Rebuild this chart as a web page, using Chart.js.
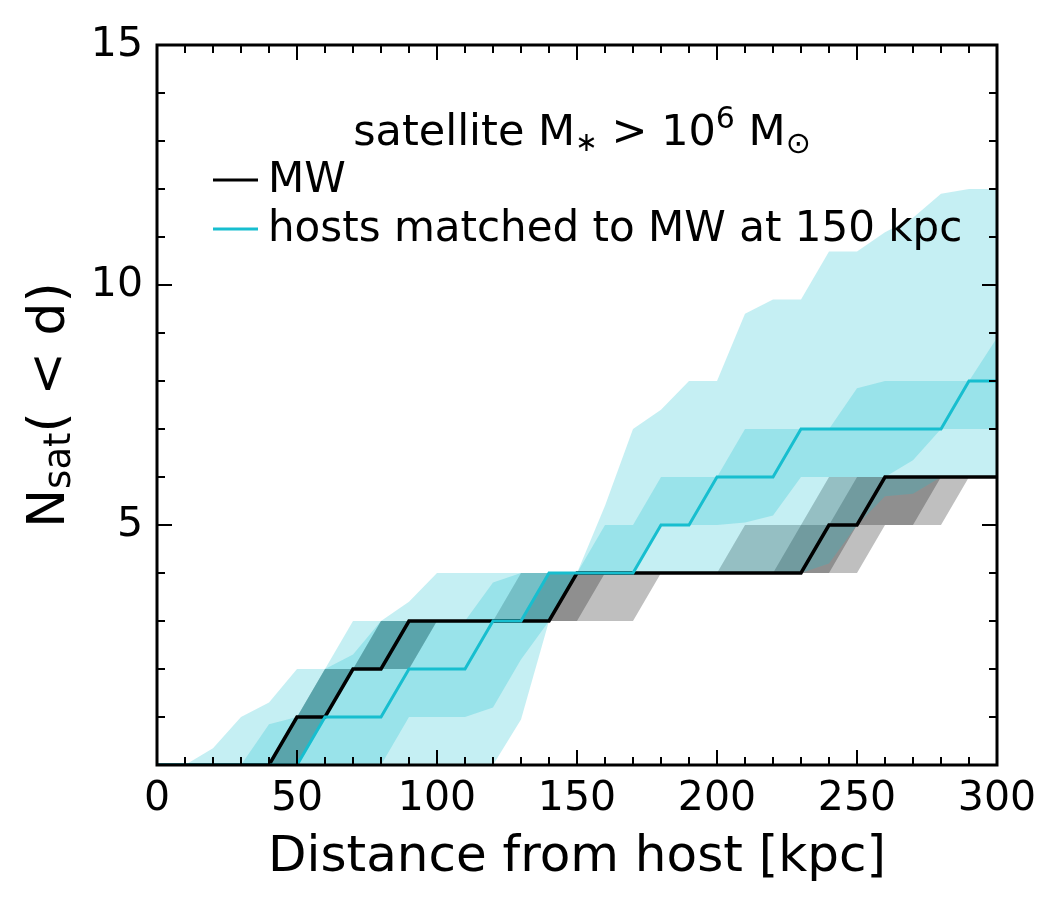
<!DOCTYPE html>
<html>
<head>
<meta charset="utf-8">
<script src="https://cdn.jsdelivr.net/npm/chart.js@4.4.1/dist/chart.umd.min.js"></script>
<style>
  html, body { margin: 0; padding: 0; background: #fff; }
  canvas { display: block; }
</style>
</head>
<body>
<canvas id="chart" width="1050" height="900" style="width:1050px;height:900px"></canvas>
<script>
const distances = [0, 10, 20, 30, 40, 50, 60, 70, 80, 90, 100, 110, 120, 130, 140, 150, 160, 170, 180, 190, 200, 210, 220, 230, 240, 250, 260, 270, 280, 290, 300];
const mwCount = [0, 0, 0, 0, 0, 1, 1, 2, 2, 3, 3, 3, 3, 3, 3, 4, 4, 4, 4, 4, 4, 4, 4, 4, 5, 5, 6, 6, 6, 6, 6];
const hostMedian = [0, 0, 0, 0, 0, 0, 1, 1, 1, 2, 2, 2, 3, 3, 4, 4, 4, 4, 5, 5, 6, 6, 6, 7, 7, 7, 7, 7, 7, 8, 8];

// host scatter (outer = light, inner = darker cyan)
const host95Upper = [0, 0, 0.35, 1, 1.3, 2, 2, 3, 3, 3.4, 4, 4, 4, 4, 4, 4, 5.4, 7, 7.4, 8, 8, 9.4, 9.7, 9.7, 10.7, 10.7, 11.1, 11.4, 11.9, 12, 12];
const host95Lower = [0, 0, 0, 0, 0, 0, 0, 0, 0, 0, 0, 0, 0, 0.95, 3, 4, 4, 4, 4, 4, 4, 4, 4, 4, 4.2, 5, 5.6, 5.65, 6, 6, 6];
const host68Upper = [0, 0, 0, 0, 0.85, 1, 2, 2.3, 3, 3, 3, 3, 3.8, 4, 4, 4, 5, 5, 6, 6, 6, 7, 7, 7, 7, 7.85, 8, 8, 8, 8, 8.9];
const host68Lower = [0, 0, 0, 0, 0, 0, 0, 0, 0, 1, 1, 1, 1.2, 2.2, 3, 4, 4, 4, 5, 5, 5, 5.05, 5.2, 6, 6, 6, 6, 6.35, 7, 7, 7];

// MW distance uncertainty
const mw95Upper = [0, 0, 0, 0, 0, 1, 2, 2, 3, 3, 3, 3, 3, 4, 4, 4, 4, 4, 4, 4, 4, 5, 5, 5, 6, 6, 6, 6, 6, 6, 6];
const mw95Lower = [0, 0, 0, 0, 0, 0, 1, 2, 2, 2, 3, 3, 3, 3, 3, 3, 3, 3, 4, 4, 4, 4, 4, 4, 4, 4, 5, 5, 5, 6, 6];
const mw68Upper = [0, 0, 0, 0, 0, 1, 2, 2, 3, 3, 3, 3, 3, 3, 4, 4, 4, 4, 4, 4, 4, 4, 4, 5, 5, 6, 6, 6, 6, 6, 6];
const mw68Lower = [0, 0, 0, 0, 0, 0, 1, 2, 2, 2, 3, 3, 3, 3, 3, 3, 4, 4, 4, 4, 4, 4, 4, 4, 4, 5, 5, 5, 6, 6, 6];

const seriesLabels = ["MW", "hosts matched to MW at 150 kpc"];

const fontFamily = "'DejaVu Sans', sans-serif";
const cyan = "#17becf";
const cyanBand = "rgba(23, 190, 207, 0.25)";
const grayBand = "rgba(0, 0, 0, 0.25)";

Chart.defaults.font.family = fontFamily;
Chart.defaults.color = "#000";

function pts(vals) {
	return distances.map((d, i) => ({ x: d, y: vals[i] }));
}

// lower edge (invisible) + upper edge filled down to it
function band(lower, upper, color, order) {
	return [
		{ data: pts(lower), borderWidth: 0, borderColor: "transparent", pointRadius: 0, fill: false, order: order },
		{ data: pts(upper), borderWidth: 0, borderColor: "transparent", pointRadius: 0, fill: "-1", backgroundColor: color, order: order }
	];
}

const datasets = [
	{ label: seriesLabels[1], data: pts(hostMedian), borderColor: cyan, borderWidth: 3, pointRadius: 0, fill: false, order: 0 },
	{ label: seriesLabels[0], data: pts(mwCount), borderColor: "#000", borderWidth: 3.5, pointRadius: 0, fill: false, order: 1 },
	...band(host68Lower, host68Upper, cyanBand, 3),
	...band(host95Lower, host95Upper, cyanBand, 3),
	...band(mw68Lower, mw68Upper, grayBand, 5),
	...band(mw95Lower, mw95Upper, grayBand, 5)
];

// draws text pieces [text, size, shift] one after another
function pieces(ctx, parts, x, y) {
	let cx = x;
	parts.forEach(p => {
		ctx.font = p[1] + "px " + fontFamily;
		ctx.fillText(p[0], cx, y + (p[2] || 0));
		cx += ctx.measureText(p[0]).width;
	});
}
function piecesWidth(ctx, parts) {
	let w = 0;
	parts.forEach(p => {
		ctx.font = p[1] + "px " + fontFamily;
		w += ctx.measureText(p[0]).width;
	});
	return w;
}

const frameAndText = {
	id: "frameAndText",
	afterDraw(chart) {
		const { ctx, chartArea: a, scales: { x, y } } = chart;
		ctx.save();
		ctx.strokeStyle = "#000";
		ctx.fillStyle = "#000";

		// inward ticks on all four sides
		ctx.lineWidth = 2;
		ctx.beginPath();
		for (let v = 0; v <= 300; v += 10) {
			const px = x.getPixelForValue(v);
			const len = v % 50 === 0 ? 15 : 8;
			ctx.moveTo(px, a.bottom); ctx.lineTo(px, a.bottom - len);
			ctx.moveTo(px, a.top); ctx.lineTo(px, a.top + len);
		}
		for (let v = 0; v <= 15; v += 1) {
			const py = y.getPixelForValue(v);
			const len = v % 5 === 0 ? 15 : 8;
			ctx.moveTo(a.left, py); ctx.lineTo(a.left + len, py);
			ctx.moveTo(a.right, py); ctx.lineTo(a.right - len, py);
		}
		ctx.stroke();

		ctx.lineWidth = 3;
		ctx.strokeRect(a.left, a.top, a.right - a.left, a.bottom - a.top);

		// title inside the axes
		const title = [["satellite M", 43], ["\u2217", 27, 6], [" > 10", 43], ["6", 30, -17], [" M", 43], ["\u2299", 30, 8]];
		ctx.textBaseline = "alphabetic";
		ctx.textAlign = "left";
		const tw = piecesWidth(ctx, title);
		pieces(ctx, title, (a.left + a.right) / 2 + 5 - tw / 2, a.top + 100);

		// legend
		const rows = [[seriesLabels[0], "#000"], [seriesLabels[1], cyan]];
		ctx.textBaseline = "middle";
		rows.forEach((r, i) => {
			const ly = a.top + 135 + i * 49;
			ctx.strokeStyle = r[1];
			ctx.lineWidth = 3;
			ctx.beginPath();
			ctx.moveTo(a.left + 56, ly); ctx.lineTo(a.left + 101, ly);
			ctx.stroke();
			ctx.font = "42px " + fontFamily;
			ctx.fillText(r[0], a.left + 111, ly + 1);
		});

		// y axis title with subscript
		const ytitle = [["N", 52], ["sat", 37, 10], ["( < d)", 52]];
		ctx.translate(50, (a.top + a.bottom) / 2);
		ctx.rotate(-Math.PI / 2);
		ctx.textBaseline = "middle";
		const yw = piecesWidth(ctx, ytitle);
		pieces(ctx, ytitle, -yw / 2, 0);
		ctx.restore();
	}
};

new Chart(document.getElementById("chart"), {
	type: "line",
	data: { datasets: datasets },
	options: {
		responsive: false,
		animation: false,
		devicePixelRatio: 1,
		layout: { padding: { top: 45, right: 53, left: 0, bottom: 0 } },
		plugins: {
			legend: { display: false },
			tooltip: { enabled: false }
		},
		scales: {
			x: {
				type: "linear",
				min: 0,
				max: 300,
				afterFit: s => { s.height = 135; },
				grid: { display: false, drawTicks: false },
				border: { display: false },
				ticks: { stepSize: 50, maxRotation: 0, padding: 10, font: { size: 41 }, color: "#000" },
				title: { display: true, text: "Distance from host [kpc]", font: { size: 50 }, color: "#000", padding: { top: 0, bottom: 12 } }
			},
			y: {
				min: 0,
				max: 15,
				afterFit: s => { s.width = 157; },
				grid: { display: false, drawTicks: false },
				border: { display: false },
				ticks: { stepSize: 5, padding: 14, font: { size: 41 }, color: "#000", callback: v => (v === 0 ? "" : v) }
			}
		}
	},
	plugins: [frameAndText]
});
</script>
</body>
</html>
